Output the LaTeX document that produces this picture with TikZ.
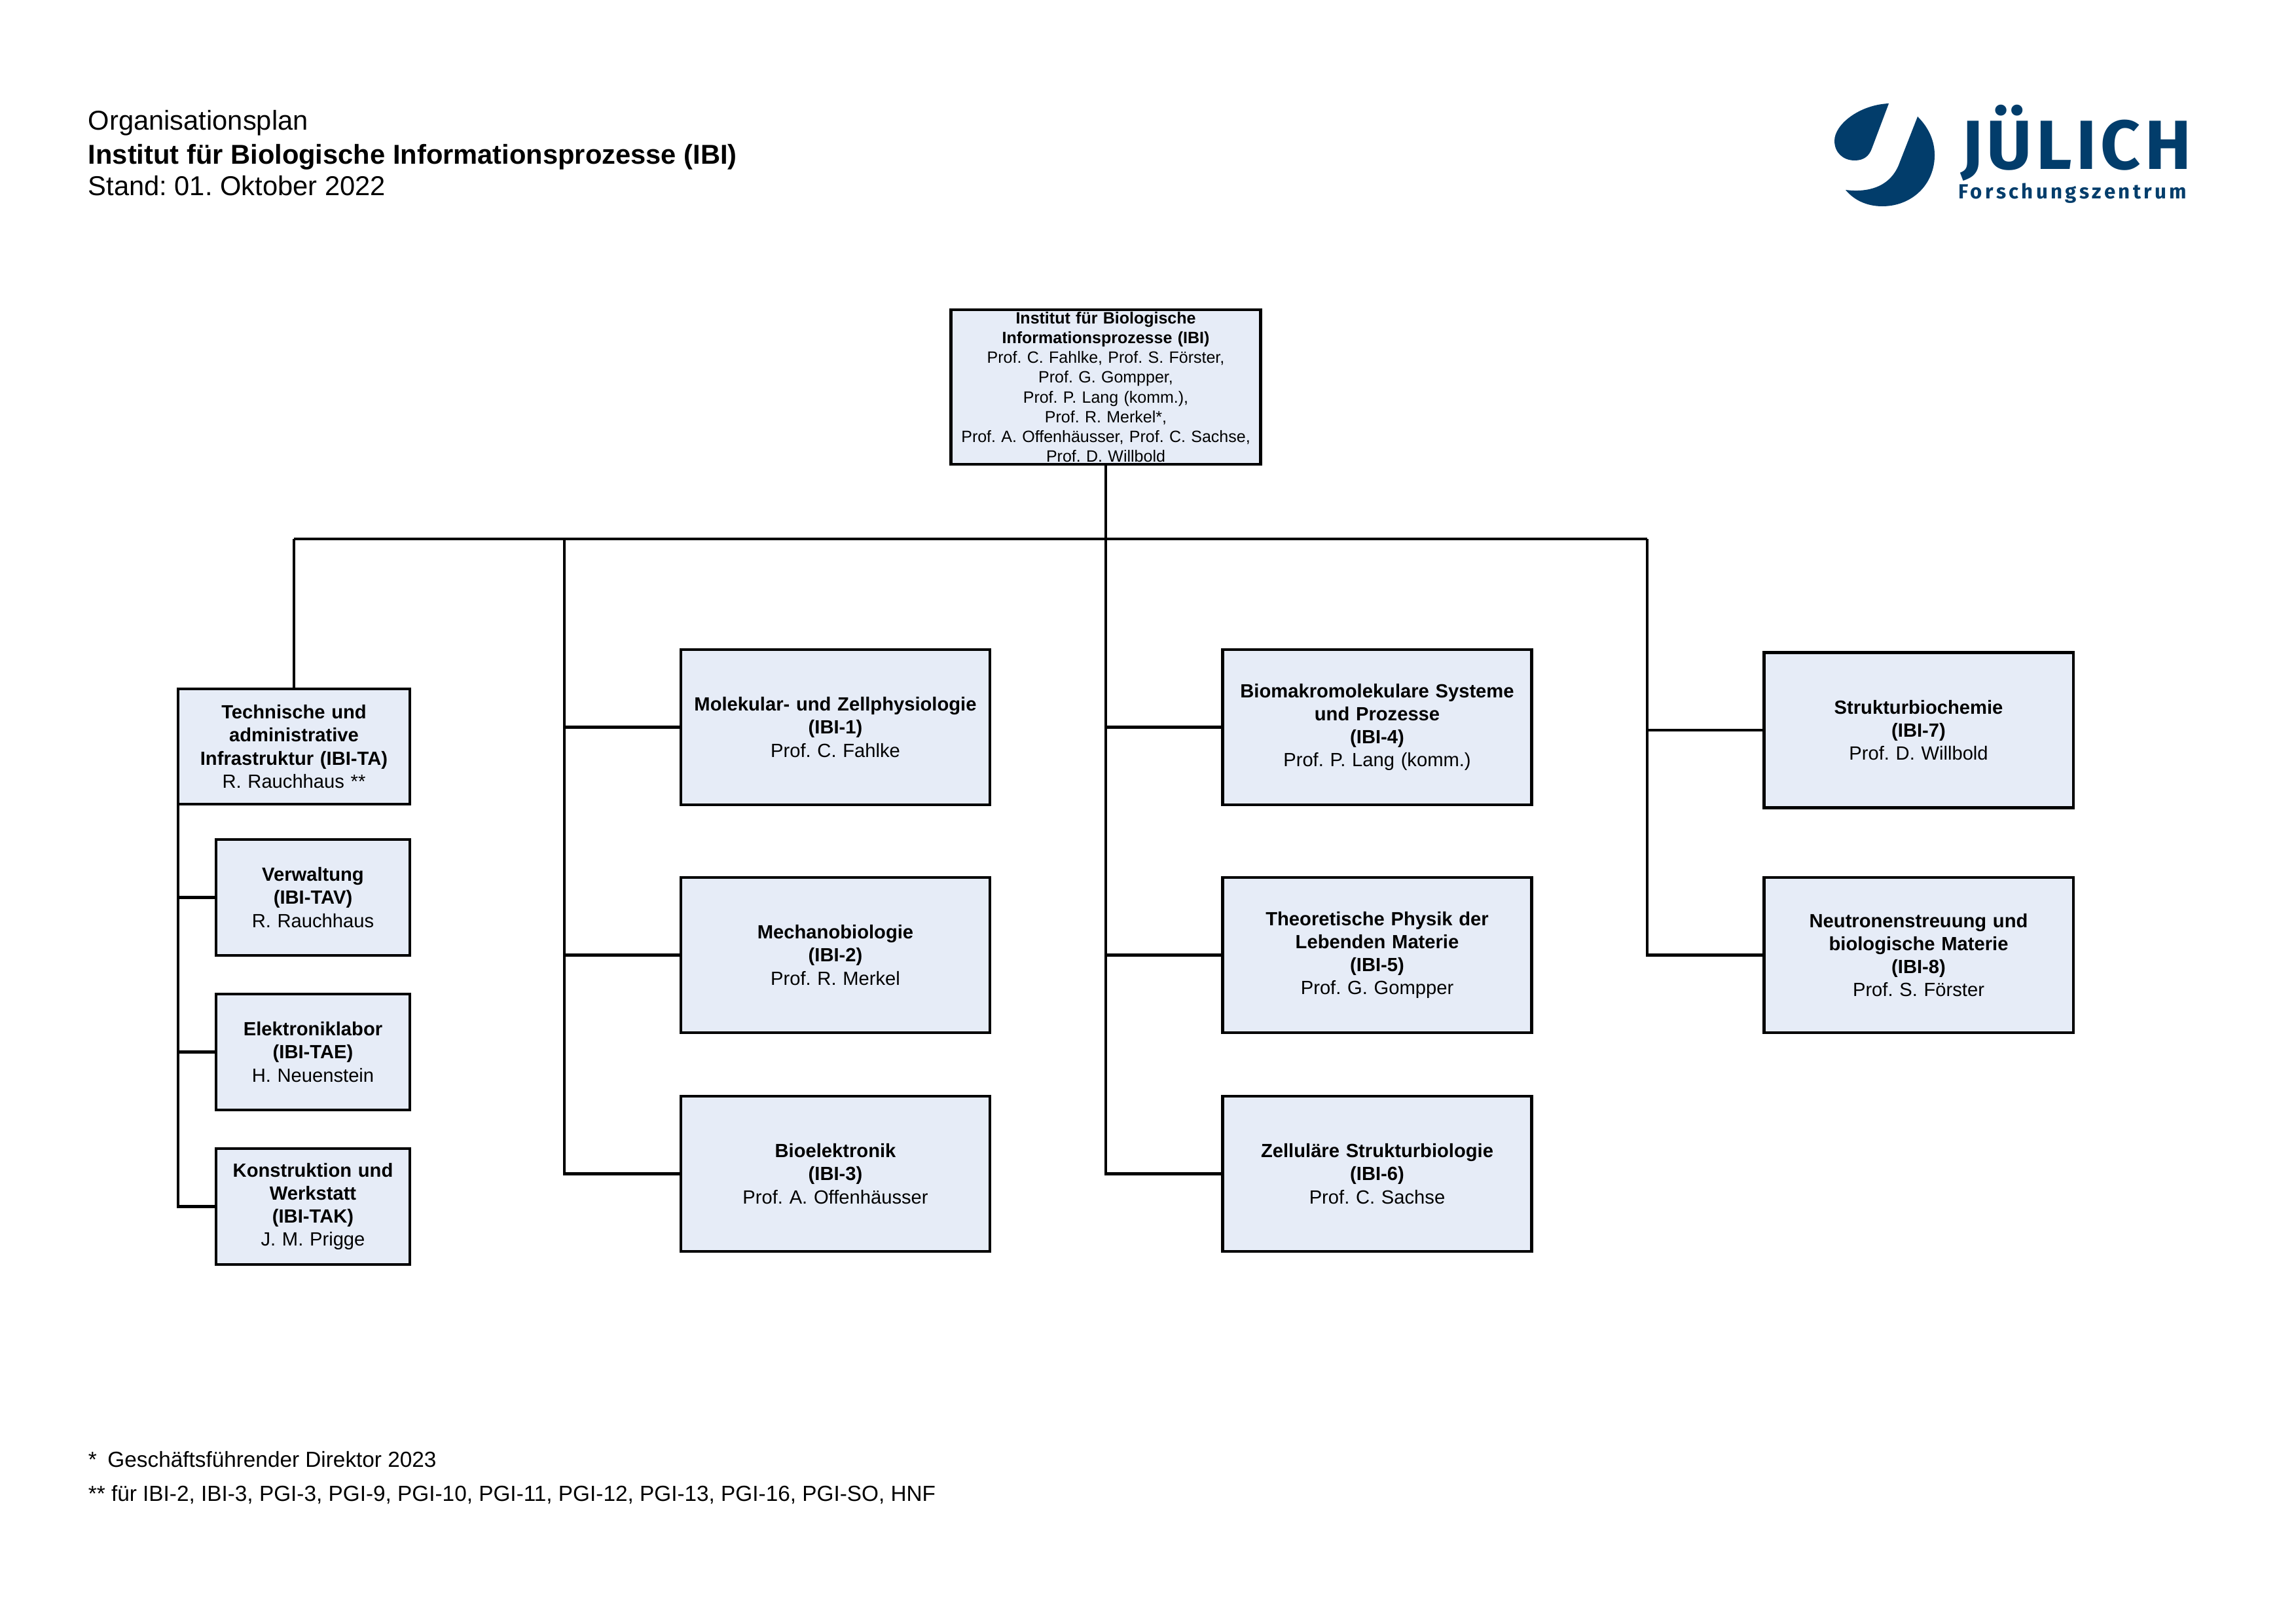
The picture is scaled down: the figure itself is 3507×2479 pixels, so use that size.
\documentclass[tikz,border=0pt]{standalone}
\usepackage{fontspec}
\setmainfont{Liberation Sans}
\newfontfamily\logofont[LetterSpace=6]{Fira Sans}
\newfontfamily\logosmall[LetterSpace=14]{Fira Sans}
\newcommand{\unitlabel}[2]{{\bfseries #1}\\#2}
\definecolor{boxfill}{HTML}{E6ECF7}
\definecolor{fzjblue}{HTML}{023D6B}
\tikzset{
    orgbox/.style={draw,fill=boxfill,line width=1pt,inner sep=0pt,outer sep=0pt,align=center,font=\fontsize{7}{8.45}\selectfont},
    largebox/.style={orgbox,text width=113.3pt,minimum height=56.9pt},
    smallbox/.style={orgbox,text width=71pt,minimum height=42.5pt},
    headbox/.style={orgbox,text width=85pt,minimum height=42.3pt},
    topbox/.style={orgbox,text width=113.5pt,minimum height=56.6pt,inner ysep=-3pt,font=\fontsize{6}{7.25}\selectfont},
    plaintext/.style={anchor=base west,inner sep=0pt,font=\fontsize{10}{12}\selectfont},
    notetext/.style={plaintext,font=\fontsize{8}{10}\selectfont},
    wire/.style={line width=1pt}
}
\frenchspacing
\begin{document}
\begin{tikzpicture}[x=0.24pt,y=-0.24pt]
    \useasboundingbox (0,0) rectangle (3507,2479);
    \node[plaintext] (plan) at (134,199) {Organisationsplan};
    \node[plaintext] (inst) at (134,250) {\bfseries Institut für Biologische Informationsprozesse (IBI)};
    \node[plaintext] (stand) at (134,299) {Stand: 01. Oktober 2022};
    % logo
    \fill[fzjblue] (2885,158) .. controls (2840,160) and (2802,190) .. (2802,215)
        .. controls (2802,233) and (2815,245) .. (2833,245)
        .. controls (2847,245) and (2855,238) .. (2859,227) -- cycle;
    \fill[fzjblue] (2929,178) .. controls (2946,195) and (2955,215) .. (2955,237)
        .. controls (2955,282) and (2920,315) .. (2875,315)
        .. controls (2852,315) and (2832,306) .. (2819,290)
        .. controls (2850,294) and (2888,288) .. (2902,247) -- cycle;
    \node[anchor=base east,inner sep=0pt,text=fzjblue,font=\fontsize{25.5}{26}\logofont\bfseries] (juelich) at (3348,258) {JÜLICH};
    \node[anchor=base east,inner sep=0pt,text=fzjblue,font=\fontsize{7.5}{9}\logosmall\bfseries] (fz) at (3341,303) {Forschungszentrum};

    \node[topbox] (ibi) at (1689,591) {\unitlabel{Institut für Biologische\\Informationsprozesse (IBI)}{Prof. C. Fahlke, Prof. S. Förster,\\Prof. G. Gompper,\\Prof. P. Lang (komm.),\\Prof. R. Merkel*,\\Prof. A. Offenhäusser, Prof. C. Sachse,\\Prof. D. Willbold}};

    \node[headbox] (ta) at (449,1140) {\unitlabel{Technische und\\administrative\\Infrastruktur (IBI-TA)}{R. Rauchhaus **}};
    \node[smallbox] (tav) at (478,1370.5) {\unitlabel{Verwaltung\\(IBI-TAV)}{R. Rauchhaus}};
    \node[smallbox] (tae) at (478,1606.5) {\unitlabel{Elektroniklabor\\(IBI-TAE)}{H. Neuenstein}};
    \node[smallbox] (tak) at (478,1842.5) {\unitlabel{Konstruktion und\\Werkstatt\\(IBI-TAK)}{J. M. Prigge}};

    \node[largebox] (ibi1) at (1276,1110.5) {\unitlabel{Molekular- und Zellphysiologie\\(IBI-1)}{Prof. C. Fahlke}};
    \node[largebox] (ibi2) at (1276,1458.5) {\unitlabel{Mechanobiologie\\(IBI-2)}{Prof. R. Merkel}};
    \node[largebox] (ibi3) at (1276,1792.5) {\unitlabel{Bioelektronik\\(IBI-3)}{Prof. A. Offenhäusser}};

    \node[largebox] (ibi4) at (2103.5,1110.5) {\unitlabel{Biomakromolekulare Systeme\\und Prozesse\\(IBI-4)}{Prof. P. Lang (komm.)}};
    \node[largebox] (ibi5) at (2103.5,1458.5) {\unitlabel{Theoretische Physik der\\Lebenden Materie\\(IBI-5)}{Prof. G. Gompper}};
    \node[largebox] (ibi6) at (2103.5,1792.5) {\unitlabel{Zelluläre Strukturbiologie\\(IBI-6)}{Prof. C. Sachse}};

    \node[largebox] (ibi7) at (2930.5,1115) {\unitlabel{Strukturbiochemie\\(IBI-7)}{Prof. D. Willbold}};
    \node[largebox] (ibi8) at (2930.5,1458.5) {\unitlabel{Neutronenstreuung und\\biologische Materie\\(IBI-8)}{Prof. S. Förster}};

    \coordinate (busa) at (ta.north |- 0,823);
    \coordinate (busb) at (862,823);
    \coordinate (busc) at (ibi.south |- 0,823);
    \coordinate (busd) at (2516,823);

    \draw[wire] (busa) -- (busd);
    \draw[wire] (busa) -- (ta.north);
    \draw[wire] (ibi.south) -- (busc);
    \foreach \target in {tav,tae,tak}
        \draw[wire] (ta.south west) |- (\target.west);
    \foreach \target in {ibi1,ibi2,ibi3}
        \draw[wire] (busb) |- (\target.west);
    \foreach \target in {ibi4,ibi5,ibi6}
        \draw[wire] (busc) |- (\target.west);
    \foreach \target in {ibi7,ibi8}
        \draw[wire] (busd) |- (\target.west);

    \node[notetext] (note1) at (134,2240) {*\hspace{0.5em}Geschäftsführender Direktor 2023};
    \node[notetext] (note2) at (134,2292) {** für IBI-2, IBI-3, PGI-3, PGI-9, PGI-10, PGI-11, PGI-12, PGI-13, PGI-16, PGI-SO, HNF};
\end{tikzpicture}
\end{document}
